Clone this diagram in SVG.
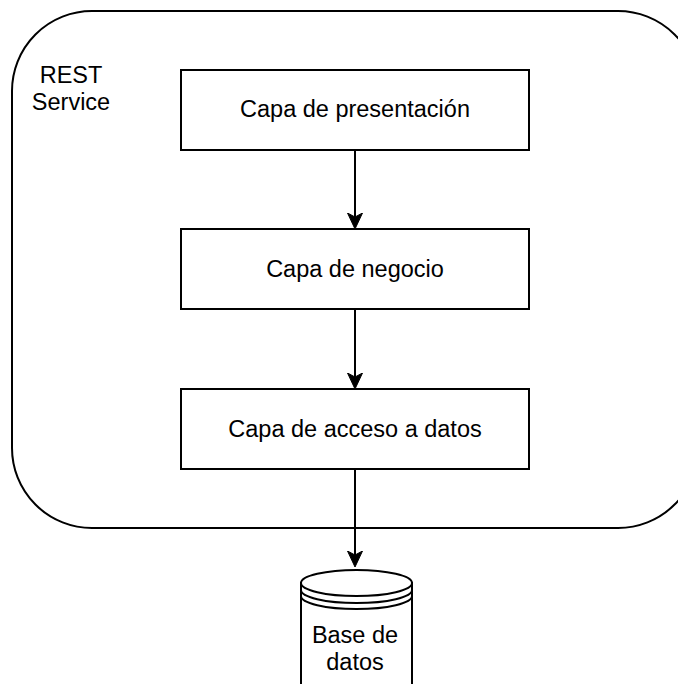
<svg xmlns="http://www.w3.org/2000/svg" width="678" height="684" viewBox="0 0 678 684">
<style>
.box{fill:#fff;stroke:#000;stroke-width:2}
.edge{fill:none;stroke:#000;stroke-width:2}
.lbl{font-family:"Liberation Sans",Arial,Helvetica,sans-serif;font-size:23.5px;fill:#000;text-anchor:middle}
</style>
<defs>
<marker id="arr" markerUnits="userSpaceOnUse" markerWidth="18" markerHeight="18" refX="4" refY="8" orient="auto" viewBox="0 0 18 18">
<path d="M16,8 L0,0.5 L4,8 L0,15.5 Z" fill="#000" stroke="#000" stroke-width="1" stroke-linejoin="miter"/>
</marker>
</defs>
<rect width="678" height="684" fill="#fff"/>
<g id="rest-service">
<rect class="box" x="12" y="11" width="686" height="517" rx="80" ry="80"/>
<text class="lbl" x="71" y="83">REST</text>
<text class="lbl" x="71" y="110">Service</text>
</g>
<g id="presentacion">
<rect class="box" x="181" y="70" width="348" height="80"/>
<text class="lbl" x="355" y="117">Capa de presentación</text>
</g>
<g id="negocio">
<rect class="box" x="181" y="229" width="348" height="80"/>
<text class="lbl" x="355" y="277">Capa de negocio</text>
</g>
<g id="acceso">
<rect class="box" x="181" y="389" width="348" height="80"/>
<text class="lbl" x="355" y="437">Capa de acceso a datos</text>
</g>
<g id="basedatos">
<path class="box" d="M301,583 L301,700 A55.5,13 0 0 0 412,700 L412,583 Z"/>
<ellipse class="box" cx="356.5" cy="583" rx="55.5" ry="13"/>
<path class="edge" d="M301,590 A55.5,13 0 0 0 412,590 M301,596 A55.5,13 0 0 0 412,596"/>
<text class="lbl" x="355" y="643">Base de</text>
<text class="lbl" x="355" y="670">datos</text>
</g>
<g id="connectors">
<line class="edge" x1="355" y1="150" x2="355" y2="217" marker-end="url(#arr)"/>
<line class="edge" x1="355" y1="309" x2="355" y2="377" marker-end="url(#arr)"/>
<line class="edge" x1="355" y1="469" x2="355" y2="555" marker-end="url(#arr)"/>
</g>
</svg>
